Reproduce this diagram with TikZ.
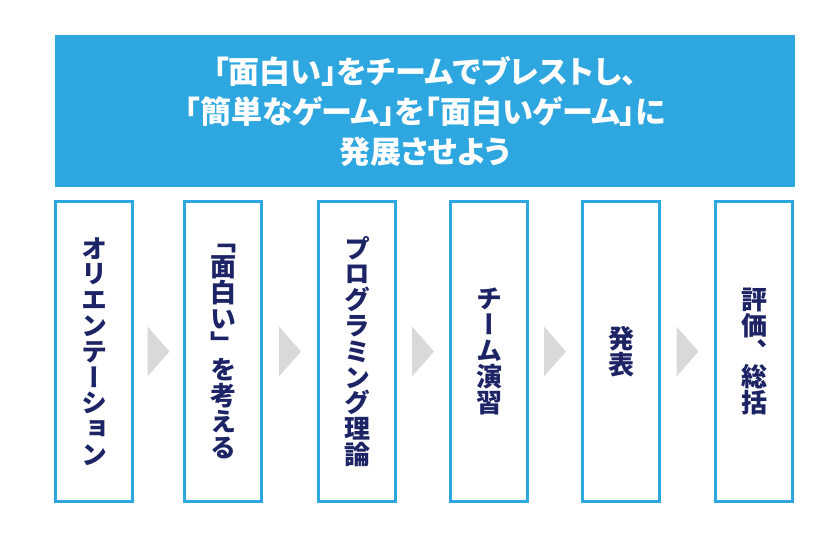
\documentclass[tikz,border=0pt]{standalone}
\usepackage{fontspec}
\usetikzlibrary{calc}
\newfontfamily\jpfont[RawFeature=+palt]{Noto Sans CJK JP}
\newfontfamily\jptate[RawFeature=+vert]{Noto Sans CJK JP}
\definecolor{bannerblue}{HTML}{2EA7E0}
\definecolor{navy}{HTML}{1D2466}
\definecolor{chevgray}{HTML}{D9D9D9}
\begin{document}
\begin{tikzpicture}[x=1pt,y=-1pt]
    % Styles
    \tikzstyle{banner}=[fill=bannerblue, text=white, minimum width=740pt, minimum height=152pt, align=center, font=\jpfont\fontsize{31}{40}\selectfont\bfseries]
    \tikzstyle{stepbox}=[draw=bannerblue, line width=3pt, minimum width=77pt, minimum height=300pt, align=center, text=navy, font=\jptate\fontsize{26}{25.8}\selectfont\bfseries]
    \tikzstyle{chevron}=[fill=chevgray]

    \useasboundingbox (0,0) rectangle (840,542);

    % Banner
    \node[banner] (goal) at (425,111) {「面白い」をチームでブレストし、\\「簡単なゲーム」を「面白いゲーム」に\\発展させよう};

    % Steps
    \node[stepbox] (ori)  at (94,351.5)  {オ\\リ\\エ\\ン\\テ\\ー\\シ\\ョ\\ン};
    \node[stepbox] (idea) at (223,351.5) {「\\面\\白\\い\\」\\を\\考\\え\\る};
    \node[stepbox] (prog) at (357,351.5) {プ\\ロ\\グ\\ラ\\ミ\\ン\\グ\\理\\論};
    \node[stepbox] (team) at (489,351.5) {チ\\ー\\ム\\演\\習};
    \node[stepbox] (pres) at (621,351.5) {発\\表};
    \node[stepbox] (eval) at (754,351.5) {評\\価\\、\\総\\括};

    % Chevrons
    \foreach \a/\b in {ori/idea, idea/prog, prog/team, team/pres, pres/eval}
        \fill[chevron] ($(\a.east)!.5!(\b.west)$) ++(-11,-25) -- ++(22,25) -- ++(-22,25) -- cycle;
\end{tikzpicture}
\end{document}
